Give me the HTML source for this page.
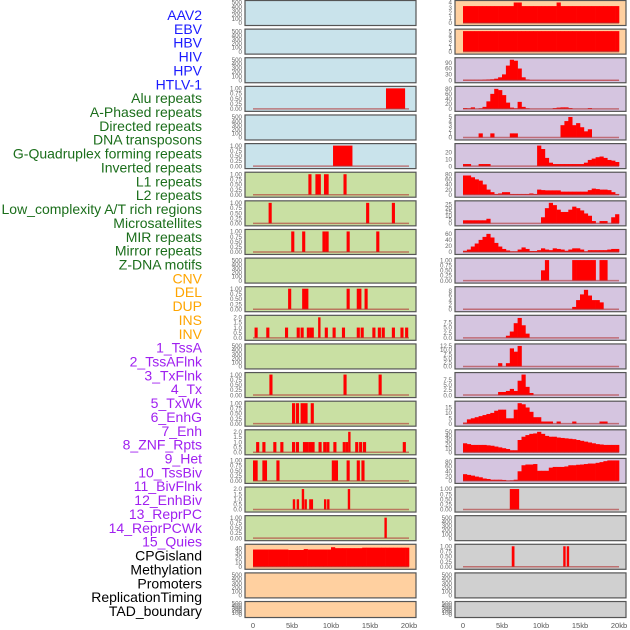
<!DOCTYPE html>
<html><head><meta charset="utf-8">
<style>
body{margin:0;background:#fff;width:630px;height:630px;overflow:hidden;font-family:"Liberation Sans",sans-serif}
svg{display:block}
</style></head>
<body>
<svg id="chart" width="630" height="630" viewBox="0 0 630 630" xmlns="http://www.w3.org/2000/svg"></svg>
<script>
// ---- data ----
const labelNames = ["AAV2","EBV","HBV","HIV","HPV","HTLV-1","Alu repeats","A-Phased repeats","Directed repeats","DNA transposons","G-Quadruplex forming repeats","Inverted repeats","L1 repeats","L2 repeats","Low_complexity A/T rich regions","Microsatellites","MIR repeats","Mirror repeats","Z-DNA motifs","CNV","DEL","DUP","INS","INV","1_TssA","2_TssAFlnk","3_TxFlnk","4_Tx","5_TxWk","6_EnhG","7_Enh","8_ZNF_Rpts","9_Het","10_TssBiv","11_BivFlnk","12_EnhBiv","13_ReprPC","14_ReprPCWk","15_Quies","CPGisland","Methylation","Promoters","ReplicationTiming","TAD_boundary"];
const labelGroups = ["v","v","v","v","v","v","r","r","r","r","r","r","r","r","r","r","r","r","r","s","s","s","s","s","c","c","c","c","c","c","c","c","c","c","c","c","c","c","c","o","o","o","o","o"];
const xTickKb = [0,5,10,15,20];
const xTickLabels = ["0","5kb","10kb","15kb","20kb"];

// blocks [startKb, endKb, value]
const L4 = [[17.05,19.5,1]];
const L6 = [[10.26,12.75,1]];
const L7 = [[7.1,7.5,1],[8.0,8.7,1],[9.1,9.7,1],[11.6,12.0,1]];
const L8 = [[2.0,2.4,1],[14.5,14.9,1],[17.8,18.2,1]];
const L9 = [[4.9,5.3,1],[6.3,6.7,1],[8.9,9.3,1],[9.3,9.7,1],[12.0,12.4,1],[15.8,16.2,1]];
const L11 = [[4.5,4.9,1],[6.3,7.1,1],[12.0,12.4,1],[13.3,13.9,1],[14.3,14.7,1]];
const L12 = [[0.2,0.6,1],[1.7,2.1,1],[4.1,4.5,1],[5.6,6.0,1],[6.1,6.5,1],[6.9,7.3,1],[7.3,7.8,1],[8.35,8.65,2],[9.2,9.6,1],[10.2,10.6,1],[11.4,11.8,1],[13.3,13.7,1],[13.8,14.2,1],[15.3,15.7,1],[16.0,16.4,1],[16.5,16.9,1],[17.8,18.2,1],[18.9,19.3,1],[19.5,19.9,1]];
const L14 = [[2.1,2.5,1],[11.6,12.0,1],[16.1,16.5,1]];
const L15 = [[5.0,5.4,1],[5.5,5.9,1],[6.1,7.0,1],[7.4,7.8,1]];
const L16 = [[0.4,0.8,1],[1.2,1.6,1],[2.6,3.0,1],[3.5,3.9,1],[5.0,5.4,1],[5.5,5.9,1],[6.4,7.1,1],[7.1,7.5,1],[7.5,7.9,1],[8.4,8.8,1],[9.0,9.4,1],[9.4,9.8,1],[10.3,10.7,1],[11.5,11.9,1],[11.9,12.2,1],[12.2,12.45,2],[13.1,13.5,1],[13.6,14.0,1],[14.1,14.5,1],[19.2,19.6,1]];
const L17 = [[0.0,0.6,1],[1.2,1.8,1],[3.0,3.4,1],[10.1,10.9,1],[12.0,12.4,1],[13.3,13.7,1],[13.9,14.3,1]];
const L18 = [[5.1,5.4,1],[5.6,5.9,1],[6.25,6.55,2],[6.6,6.9,1],[7.2,7.7,1],[9.1,9.4,1],[9.5,9.8,1],[12.15,12.45,2]];
const L19 = [[16.85,17.15,1]];
const cpg = [37,37,37,37,37,37,37,37,37,36,36,36,36,38,37,37,37,37,37,37,42,40,40,40,40,40,40,40,41,41,41,41,41,41,41,41,41,41,41,41];

// right column binned series (0.5kb bins, 0..20kb)
const aav2 = [3.3,3.3,3.3,3.3,3.3,3.3,3.3,3.3,3.3,3.3,3.3,3.3,3.3,4,4,3.3,3.3,3.3,3.3,3.3,3.3,3.3,3.3,3.3,4,3.3,3.3,3.3,3.3,3.3,3.3,3.3,3.3,3.3,3.3,3.3,3.3,3.3,3.3,3.3];
const ebv = [5,5,5,5,5,5,5,5,5,5,5,5,5,5,5,5,5,5,5,5,5,5,5,5,5,5,5,5,5,5,5,5,5,5,5,5,5,5,5,5];
const hiv = [2,2,2,2,2,3,4,5,8,15,30,75,105,100,60,15,4,1,1,1,1,1,1,1,1,1,1,1,1,1,1,1,1,1,1,1,1,1,1,1];
const alu = [3,2,6,0,2,8,30,60,80,75,55,25,5,2,28,8,2,0,0,0,0,0,0,3,5,6,6,3,0,0,0,0,3,0,0,0,0,0,0,0];
const directed = [0,0,0,0,1,0,0,1,0,0,0,0,1,1,0,0,0,0,0,0,0,0,0,0,0,3,4,5,3,3.5,2.5,1.5,2,0,0,0,0,0,0,0];
const gquad = [3,3,0,0,3,3,3,0,0,0,0,0,0,0,0,0,0,0,0,30,25,12,5,3,3,3,3,3,3,3,3,5,9,11,13,14,12,9,8,6];
const inverted = [75,75,68,60,55,40,20,10,3,5,10,10,3,3,3,3,3,5,3,20,18,17,17,17,17,12,12,12,12,12,12,12,18,24,22,20,20,18,10,3];
const lowcx = [4,4,4,4,4,4,6,0,0,0,0,0,0,0,0,0,0,0,0,0,8,20,27,24,18,15,15,18,22,20,17,13,10,3,0,3,3,0,8,12];
const micro = [4,8,18,28,40,50,60,48,30,18,10,5,2,2,8,15,10,3,3,6,12,8,6,12,10,8,4,8,12,12,8,2,6,6,6,6,6,8,10,10];
const mir = [0,0,0,0,0,0,0,0,0,0,0,0,0,0,0,0,0,0,0,0,0.5,1,0,0,0,0,0,0,1,1,1,1,1,1,0,1,1,0,0,0];
const mirror = [0,0,0,0,0,0,0,0,0,0,0,0,0,0,0,0,0,0,0,0,0,0,0,0,0,0,0,0,1,4,6.5,8.5,6,4,4,3,0,0,0,0];
const zdna = [0,0,0,0,0,0,0,0,0,0,0,1,3,7,9.5,6,2,0,0,0,0,0,0,0,0,0,0,0,0,0,0,0,0,0,0,0,0,0,0,0];
const cnv = [0,0,0,0,0,0,0,0,0,2,0,2,11,9,12.5,0,0,0,0,0,0,0,0,0,0,0,0,0,0,0,0,0,0,0,0,0,0,0,0,0];
const del = [0,0,0,0,0,0,0,0,0,1.5,1.5,2,3,2,7,10,4,1,0,0,0,0,0,0,0,0,0,0,0,0,0,0,0,0,0,0,0,0,0,0];
const dup = [1,4,5,6,7,8,9,10,12,13,13,5,5,13,19,18,15,11,6,6,2,2,2,0,2,0,0,0,2,0,0,0,0,0,0,2,2,0,0,0];
const ins = [22,20,18,18,18,18,17,16,14,12,10,8,5,5,30,38,42,45,46,50,45,40,38,38,36,35,34,33,32,30,28,26,24,22,20,19,18,18,18,18];
const inv = [28,25,22,18,15,10,8,5,5,5,4,1,2,5,40,65,68,68,70,42,42,42,55,58,58,58,60,65,65,67,68,70,72,72,75,78,82,85,85,85];
const R18 = [[6.0,7.2,1]];
const R20 = [[6.25,6.6,1],[12.85,13.15,1],[13.3,13.6,1]];

const emptyTicks = [0,100,200,300,400,500];
const t1 = [0,0.25,0.5,0.75,1];
const t2 = [0,0.5,1,1.5,2];

const panels = [
 {c:0,bg:"#c9e3eb",max:500,ticks:emptyTicks},
 {c:0,bg:"#c9e3eb",max:500,ticks:emptyTicks},
 {c:0,bg:"#c9e3eb",max:500,ticks:emptyTicks},
 {c:0,bg:"#c9e3eb",max:1,ticks:t1,blocks:L4},
 {c:0,bg:"#c9e3eb",max:500,ticks:emptyTicks},
 {c:0,bg:"#c9e3eb",max:1,ticks:t1,blocks:L6},
 {c:0,bg:"#c9e0a3",max:1,ticks:t1,blocks:L7},
 {c:0,bg:"#c9e0a3",max:1,ticks:t1,blocks:L8},
 {c:0,bg:"#c9e0a3",max:1,ticks:t1,blocks:L9},
 {c:0,bg:"#c9e0a3",max:500,ticks:emptyTicks},
 {c:0,bg:"#c9e0a3",max:1,ticks:t1,blocks:L11},
 {c:0,bg:"#c9e0a3",max:2,ticks:t2,blocks:L12},
 {c:0,bg:"#c9e0a3",max:500,ticks:emptyTicks},
 {c:0,bg:"#c9e0a3",max:1,ticks:t1,blocks:L14},
 {c:0,bg:"#c9e0a3",max:1,ticks:t1,blocks:L15},
 {c:0,bg:"#c9e0a3",max:2,ticks:t2,blocks:L16},
 {c:0,bg:"#c9e0a3",max:1,ticks:t1,blocks:L17},
 {c:0,bg:"#c9e0a3",max:2,ticks:t2,blocks:L18},
 {c:0,bg:"#c9e0a3",max:1,ticks:t1,blocks:L19},
 {c:0,bg:"#ffd0a0",max:44,ticks:[0,10,20,30,40],bins:cpg},
 {c:0,bg:"#ffd0a0",max:500,ticks:emptyTicks},
 {c:0,bg:"#ffd0a0",max:500,ticks:emptyTicks},
 {c:1,bg:"#ffd0a0",max:4,ticks:[0,1,2,3,4],bins:aav2},
 {c:1,bg:"#ffd0a0",max:5,ticks:[0,1,2,3,4,5],bins:ebv},
 {c:1,bg:"#d5c5e0",max:105,ticks:[0,30,60,90],bins:hiv},
 {c:1,bg:"#d5c5e0",max:82,ticks:[0,20,40,60,80],bins:alu},
 {c:1,bg:"#d5c5e0",max:5,ticks:[0,1,2,3,4,5],bins:directed},
 {c:1,bg:"#d5c5e0",max:30,ticks:[0,10,20],bins:gquad},
 {c:1,bg:"#d5c5e0",max:80,ticks:[0,20,40,60,80],bins:inverted},
 {c:1,bg:"#d5c5e0",max:27,ticks:[0,5,10,15,20,25],bins:lowcx},
 {c:1,bg:"#d5c5e0",max:68,ticks:[0,20,40,60],bins:micro},
 {c:1,bg:"#d5c5e0",max:1,ticks:t1,bins:mir},
 {c:1,bg:"#d5c5e0",max:9,ticks:[0,2,4,6,8],bins:mirror},
 {c:1,bg:"#d5c5e0",max:9.8,ticks:[0,2.5,5,7.5],bins:zdna},
 {c:1,bg:"#d5c5e0",max:12.5,ticks:[0,2.5,5,7.5,10,12.5],bins:cnv},
 {c:1,bg:"#d5c5e0",max:10,ticks:[0,2.5,5,7.5],bins:del},
 {c:1,bg:"#d5c5e0",max:19,ticks:[0,5,10,15],bins:dup},
 {c:1,bg:"#d5c5e0",max:50,ticks:[0,10,20,30,40,50],bins:ins},
 {c:1,bg:"#d5c5e0",max:85,ticks:[0,20,40,60,80],bins:inv},
 {c:1,bg:"#d0d0d0",max:1,ticks:t1,blocks:R18},
 {c:1,bg:"#d0d0d0",max:500,ticks:emptyTicks},
 {c:1,bg:"#d0d0d0",max:1,ticks:t1,blocks:R20},
 {c:1,bg:"#d0d0d0",max:500,ticks:emptyTicks},
 {c:1,bg:"#d0d0d0",max:500,ticks:emptyTicks}
];

// ---- rendering ----
const NS = "http://www.w3.org/2000/svg";
const svg = document.getElementById("chart");
const colColors = {v:"#1a1aff",r:"#1b6e1b",s:"#ffa500",c:"#a020f0",o:"#000"};
const colLeft = [245,455], colW = 171;
const pitch = 28.62;
function xScale(c, kb){ return colLeft[c] + 8 + kb*7.8; }
function mk(tag, attrs){ const e=document.createElementNS(NS,tag); for(const k in attrs) e.setAttribute(k,attrs[k]); svg.appendChild(e); return e; }
function fmt(v, ticks){
  const dec = ticks.some(t=>Math.abs(Math.round(t*100)%10)>0) ? 2 : ticks.some(t=>Math.abs(t%1)>0) ? 1 : 0;
  return v.toFixed(dec);
}

labelNames.forEach((n,i)=>{
  const t = mk("text",{x:202,y:20+i*13.86,"text-anchor":"end","font-size":"14",fill:colColors[labelGroups[i]]});
  
  
  t.textContent = n;
});

const rowCount = [0,0];
panels.forEach((p,pi)=>{
  const r = rowCount[p.c]++;
  const top = r*pitch + 0.5;
  const h = r===21 ? 16 : 25;
  const x0 = colLeft[p.c];
  const bg = mk("rect",{x:x0,y:top,width:colW,height:h,fill:p.bg,stroke:"#555","stroke-width":"1.2"});
  
  
  const yTop = top+2, yBot = top+h-2.5;
  const yScale = v => yBot - (v/p.max)*(yBot-yTop);
  p.ticks.forEach(tv=>{
    const tl = mk("text",{x:x0-3,y:yScale(tv)+2.2,"text-anchor":"end","font-size":"6.2",fill:"#666"});
    
    
    tl.textContent = fmt(tv,p.ticks);
  });
  if(p.bins){
    p.bins.forEach((v,i)=>{
      if(v<=0) return;
      const xa = xScale(p.c,i*0.5), xb = xScale(p.c,(i+1)*0.5);
      const b = mk("rect",{x:xa,y:yScale(v),width:xb-xa+0.3,height:yBot-yScale(v),fill:"#ff0000"});
      
      
    });
  }
  if(p.blocks){
    p.blocks.forEach(s=>{
      const xa = xScale(p.c,s[0]), xb = xScale(p.c,s[1]);
      const b = mk("rect",{x:xa,y:yScale(s[2]),width:Math.max(2.4,xb-xa),height:yBot-yScale(s[2]),fill:"#ff0000"});
      
      
    });
  }
  if(p.bins||p.blocks){
    const bl = mk("line",{x1:xScale(p.c,0),x2:xScale(p.c,20),y1:yBot,y2:yBot,stroke:"#b03030","stroke-width":"1.5","stroke-opacity":"0.6"});
    
    
  }
});

[0,1].forEach(c=>{
  xTickKb.forEach((kb,i)=>{
    const t = mk("text",{x:xScale(c,kb),y:628,"text-anchor":"middle","font-size":"7.5",fill:"#555"});
    
    
    t.textContent = xTickLabels[i];
  });
});
</script>
</body></html>
